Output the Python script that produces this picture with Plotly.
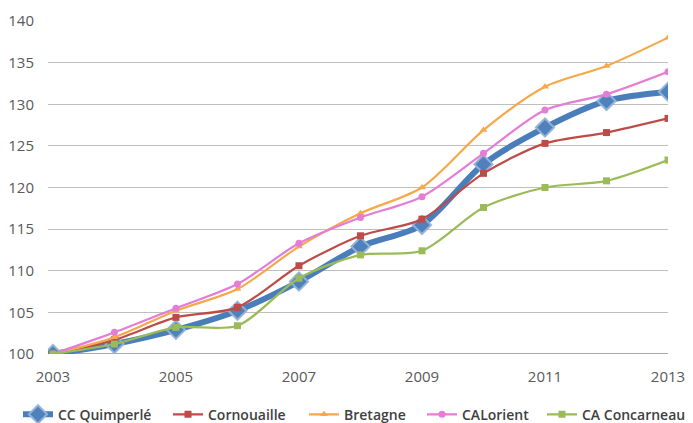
import plotly.graph_objects as go

years = [2003, 2004, 2005, 2006, 2007, 2008, 2009, 2010, 2011, 2012, 2013]
quimperle = [100, 101.2, 102.9, 105.2, 108.7, 112.9, 115.5, 122.8, 127.2, 130.4, 131.5]
cornouaille = [100, 101.7, 104.4, 105.6, 110.6, 114.2, 116.2, 121.7, 125.3, 126.6, 128.3]
bretagne = [100, 102.0, 105.2, 107.8, 112.9, 116.9, 120.0, 126.9, 132.1, 134.6, 138.0]
calorient = [100, 102.6, 105.5, 108.4, 113.3, 116.4, 118.9, 124.1, 129.3, 131.2, 133.9]
concarneau = [100, 101.2, 103.2, 103.4, 109.1, 111.9, 112.4, 117.6, 120.0, 120.8, 123.3]

names = ["CC Quimperlé", "Cornouaille", "Bretagne", "CALorient", "CA Concarneau"]
x_ticks = [2003, 2005, 2007, 2009, 2011, 2013]

# page body has an 8px margin; figure positioned to compensate (overflow is outside the window)
FW, FH = 693, 415

fig = go.Figure()

fig.add_trace(go.Scatter(
    x=years, y=quimperle, name=names[0], mode="lines+markers", legend="legend",
    line=dict(color="#4A7EBB", width=6, shape="spline", smoothing=0.8),
    marker=dict(symbol="diamond", size=14, color="#4F81BD",
                line=dict(color="rgba(149,179,215,0.95)", width=2)),
))

thin = [
    (cornouaille, names[1], "#BE4B48", "square", "legend2"),
    (bretagne, names[2], "#F6A84A", "triangle-up", "legend3"),
    (calorient, names[3], "#E47DD6", "circle", "legend4"),
    (concarneau, names[4], "#9BBB59", "square", "legend5"),
]
for vals, nm, col, sym, lg in thin:
    fig.add_trace(go.Scatter(
        x=years, y=vals, name=nm, mode="lines+markers", legend=lg,
        line=dict(color=col, width=2.2, shape="spline", smoothing=0.8),
        marker=dict(symbol=sym, size=7, color=col),
    ))

# legend entry left positions (screen px) -> figure px
legend_left_px = [23, 173, 309, 427, 547]
leg_font = dict(family="Open Sans, sans-serif", size=14, color="#404040", weight=600)
legend_common = dict(orientation="h", xref="container", yref="container",
                     xanchor="left", yanchor="middle", y=0.02,
                     font=leg_font, itemwidth=30, bgcolor="rgba(0,0,0,0)")

layout_legends = {}
for i, px in enumerate(legend_left_px):
    key = "legend" if i == 0 else f"legend{i+1}"
    layout_legends[key] = dict(legend_common, x=(px - 8 - 5) / FW)

fig.update_layout(
    width=FW, height=FH,
    margin=dict(l=40, r=33, t=13, b=69, autoexpand=False),
    plot_bgcolor="white", paper_bgcolor="white",
    font=dict(family="Open Sans, sans-serif", color="#595959", size=15),
    showlegend=True,
    xaxis=dict(range=[2002.92, 2013], tickvals=x_ticks, ticktext=[str(v) for v in x_ticks],
               showgrid=False, zeroline=False, showline=False, automargin=False,
               ticks="outside", ticklen=9, tickcolor="rgba(0,0,0,0)"),
    yaxis=dict(range=[100, 140], dtick=5, showgrid=True, gridcolor="#BFBFBF", gridwidth=1,
               zeroline=False, showline=False, automargin=False,
               ticks="outside", ticklen=10, tickcolor="rgba(0,0,0,0)"),
    **layout_legends,
)
fig.add_shape(type="line", xref="paper", yref="y", x0=0, x1=1, y0=100, y1=100,
              line=dict(color="#8C8C8C", width=1.3), layer="below")

fig.write_html("out.html")
